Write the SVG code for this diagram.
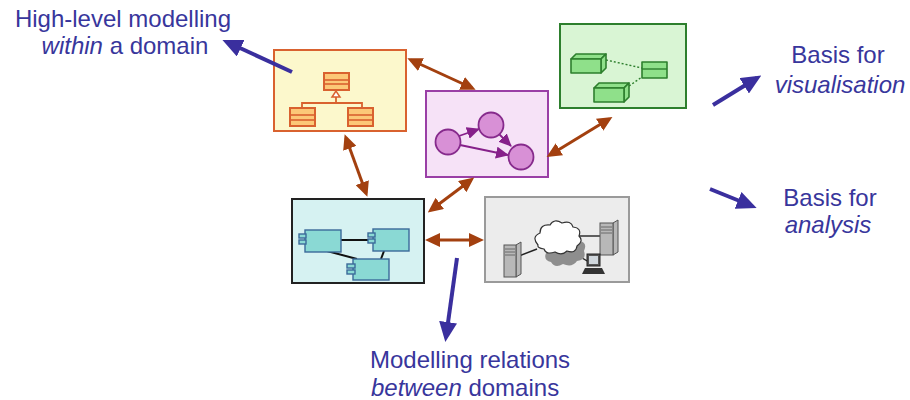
<svg xmlns="http://www.w3.org/2000/svg" width="910" height="400" viewBox="0 0 910 400">
  <style>
    .lbl { font-family: "Liberation Sans", Arial, sans-serif; font-size: 24px; fill: #38369c; }
    .it { font-style: italic; }
    .rel { stroke: #a3400f; stroke-width: 3; fill: none; marker-start: url(#brownHead); marker-end: url(#brownHead); }
    .note { stroke: #3a2f9e; stroke-width: 4; fill: none; marker-end: url(#blueHead); }
    .uml { fill: #fcc877; stroke: #d9622f; stroke-width: 2; }
    .node { fill: #d890d6; stroke: #862a8c; stroke-width: 1.8; }
    .cube { fill: #8fe08a; stroke: #2d7f2d; stroke-width: 1.6; stroke-linejoin: round; }
    .comp { fill: #8ad9d4; stroke: #3b6a9a; stroke-width: 1.4; }
    .tower { fill: #b8b8b8; stroke: #555; stroke-width: 1; }
  </style>
  <defs>
    <marker id="brownHead" markerUnits="userSpaceOnUse" markerWidth="15" markerHeight="14" refX="11" refY="7" orient="auto-start-reverse">
      <path d="M0,0 L15,7 L0,14 z" fill="#a3400f"/>
    </marker>
    <marker id="blueHead" markerUnits="userSpaceOnUse" markerWidth="20" markerHeight="18" refX="15" refY="9" orient="auto">
      <path d="M0,0 L20,9 L0,18 z" fill="#3a2f9e"/>
    </marker>
    <marker id="purpleHead" markerUnits="userSpaceOnUse" markerWidth="13" markerHeight="12" refX="12" refY="6" orient="auto">
      <path d="M0,0 L13,6 L0,12 z" fill="#86208a"/>
    </marker>
  </defs>

  <!-- class hierarchy view -->
  <g id="classView">
    <rect x="274" y="50" width="132" height="81" fill="#fcf8cc" stroke="#d9622f" stroke-width="2"/>
    <rect class="uml" x="324" y="73" width="25" height="17"/>
    <line x1="324" y1="80" x2="349" y2="80" stroke="#d9622f" stroke-width="1.6"/>
    <line x1="324" y1="84" x2="349" y2="84" stroke="#d9622f" stroke-width="1.6"/>
    <polyline points="302,108 302,103 362,103 362,108" fill="none" stroke="#d9622f" stroke-width="1.8"/>
    <line x1="336" y1="97" x2="336" y2="103" stroke="#d9622f" stroke-width="1.8"/>
    <polygon points="336,91 332,97 340,97" fill="#fff" stroke="#d9622f" stroke-width="1.5"/>
    <rect class="uml" x="290" y="108" width="25" height="18"/>
    <line x1="290" y1="115" x2="315" y2="115" stroke="#d9622f" stroke-width="1.6"/>
    <line x1="290" y1="120" x2="315" y2="120" stroke="#d9622f" stroke-width="1.6"/>
    <rect class="uml" x="348" y="108" width="25" height="18"/>
    <line x1="348" y1="115" x2="373" y2="115" stroke="#d9622f" stroke-width="1.6"/>
    <line x1="348" y1="120" x2="373" y2="120" stroke="#d9622f" stroke-width="1.6"/>
  </g>

  <!-- graph view -->
  <g id="graphView">
    <rect x="426" y="91" width="122" height="86" fill="#f6e2f7" stroke="#9a3fa6" stroke-width="2"/>
    <g stroke="#86208a" stroke-width="1.8" marker-end="url(#purpleHead)">
      <line x1="459" y1="136" x2="479" y2="129"/>
      <line x1="499" y1="134" x2="511" y2="146"/>
      <line x1="460" y1="145" x2="508" y2="155"/>
    </g>
    <circle class="node" cx="448" cy="142" r="12.5"/>
    <circle class="node" cx="491" cy="125" r="12.5"/>
    <circle class="node" cx="521" cy="157" r="12.5"/>
  </g>

  <!-- deployment view -->
  <g id="deploymentView">
    <rect x="560" y="24" width="126" height="84" fill="#d9f5d4" stroke="#2d7f2d" stroke-width="2"/>
    <g stroke="#2d7f2d" stroke-width="1.4" stroke-dasharray="2,2">
      <line x1="606" y1="60" x2="642" y2="68"/>
      <line x1="629" y1="86" x2="642" y2="77"/>
    </g>
    <polygon class="cube" points="571,59 576,54 606,54 601,59"/>
    <polygon class="cube" points="601,59 606,54 606,68 601,73"/>
    <rect class="cube" x="571" y="59" width="30" height="14"/>
    <polygon class="cube" points="594,88 599,83 629,83 624,88"/>
    <polygon class="cube" points="624,88 629,83 629,97 624,102"/>
    <rect class="cube" x="594" y="88" width="30" height="14"/>
    <rect class="cube" x="642" y="62" width="25" height="16"/>
    <line x1="642" y1="69" x2="667" y2="69" stroke="#2d7f2d" stroke-width="1.4"/>
  </g>

  <!-- component view -->
  <g id="componentView">
    <rect x="292" y="199" width="132" height="84" fill="#d6f2f2" stroke="#222" stroke-width="2"/>
    <g stroke="#111" stroke-width="2">
      <line x1="341" y1="240" x2="372" y2="240"/>
      <line x1="327" y1="251" x2="357" y2="259"/>
      <line x1="384" y1="251" x2="381" y2="259"/>
    </g>
    <rect class="comp" x="305" y="230" width="36" height="22"/>
    <rect class="comp" x="299" y="234" width="7" height="4"/>
    <rect class="comp" x="299" y="240" width="7" height="4"/>
    <rect class="comp" x="373" y="229" width="36" height="22"/>
    <rect class="comp" x="368" y="233" width="7" height="4"/>
    <rect class="comp" x="368" y="239" width="7" height="4"/>
    <rect class="comp" x="353" y="259" width="36" height="21"/>
    <rect class="comp" x="347" y="264" width="8" height="4"/>
    <rect class="comp" x="347" y="270" width="8" height="4"/>
  </g>

  <!-- network view -->
  <g id="networkView">
    <rect x="485" y="197" width="144" height="85" fill="#ececec" stroke="#9a9a9a" stroke-width="2"/>
    <g stroke="#222" stroke-width="1.4">
      <line x1="519" y1="256" x2="537" y2="249"/>
      <line x1="574" y1="236" x2="600" y2="236"/>
      <line x1="570" y1="251" x2="589" y2="262"/>
    </g>
    <!-- cloud shadow -->
    <path d="M547,251 q-5,-11 7,-11 q3,-9 13,-5 q9,-3 12,6 q9,1 5,10 q3,9 -7,10 q-5,7 -14,3 q-8,5 -12,-2 q-9,-2 -4,-11 z" fill="#8e8e8e"/>
    <!-- cloud -->
    <path d="M538,245 q-7,-8 2,-12 q0,-9 10,-8 q4,-7 12,-2 q9,-3 11,4 q9,1 6,9 q5,5 -2,10 q-1,8 -10,5 q-5,5 -12,1 q-9,3 -11,-3 q-7,-1 -6,-4 z" fill="#fff" stroke="#333" stroke-width="1.2"/>
    <!-- left server -->
    <polygon class="tower" points="516,245 521,242 521,274 516,277" fill="#8a8a8a"/>
    <rect class="tower" x="504" y="245" width="12" height="32"/>
    <g stroke="#555" stroke-width="0.8">
      <line x1="505" y1="249" x2="515" y2="249"/>
      <line x1="505" y1="252" x2="515" y2="252"/>
      <line x1="505" y1="255" x2="515" y2="255"/>
    </g>
    <!-- right server -->
    <polygon class="tower" points="613,223 618,220 618,252 613,255" fill="#8a8a8a"/>
    <rect class="tower" x="600" y="223" width="13" height="32"/>
    <g stroke="#555" stroke-width="0.8">
      <line x1="601" y1="227" x2="612" y2="227"/>
      <line x1="601" y1="230" x2="612" y2="230"/>
      <line x1="601" y1="233" x2="612" y2="233"/>
    </g>
    <!-- workstation -->
    <rect x="587" y="254" width="13" height="12" fill="#555" stroke="#222" stroke-width="1"/>
    <rect x="589" y="256" width="9" height="8" fill="#cfd6dc"/>
    <polygon points="585,268 602,268 605,274 582,274" fill="#333"/>
  </g>

  <!-- relations between the views -->
  <g id="connectors">
    <line class="rel" x1="411" y1="60" x2="472" y2="88"/>
    <line class="rel" x1="346" y1="138" x2="366" y2="193"/>
    <line class="rel" x1="471" y1="180" x2="431" y2="210"/>
    <line class="rel" x1="550" y1="155" x2="609" y2="119"/>
    <line class="rel" x1="429" y1="240" x2="480" y2="240"/>
    <line class="note" x1="292" y1="72" x2="227" y2="42"/>
    <line class="note" x1="713" y1="105" x2="757" y2="78"/>
    <line class="note" x1="710" y1="189" x2="752" y2="206"/>
    <line class="note" x1="457" y1="258" x2="446" y2="337"/>
  </g>

  <!-- annotations -->
  <g id="labels">
    <text class="lbl" x="123" y="27" text-anchor="middle">High-level modelling</text>
    <text class="lbl" x="125" y="54" text-anchor="middle"><tspan class="it">within</tspan> a domain</text>
    <text class="lbl" x="838" y="63" text-anchor="middle">Basis for</text>
    <text class="lbl it" x="840" y="93" text-anchor="middle">visualisation</text>
    <text class="lbl" x="830" y="206" text-anchor="middle">Basis for</text>
    <text class="lbl it" x="828" y="233" text-anchor="middle">analysis</text>
    <text class="lbl" x="370" y="368">Modelling relations</text>
    <text class="lbl" x="371" y="396"><tspan class="it">between</tspan> domains</text>
  </g>
</svg>
